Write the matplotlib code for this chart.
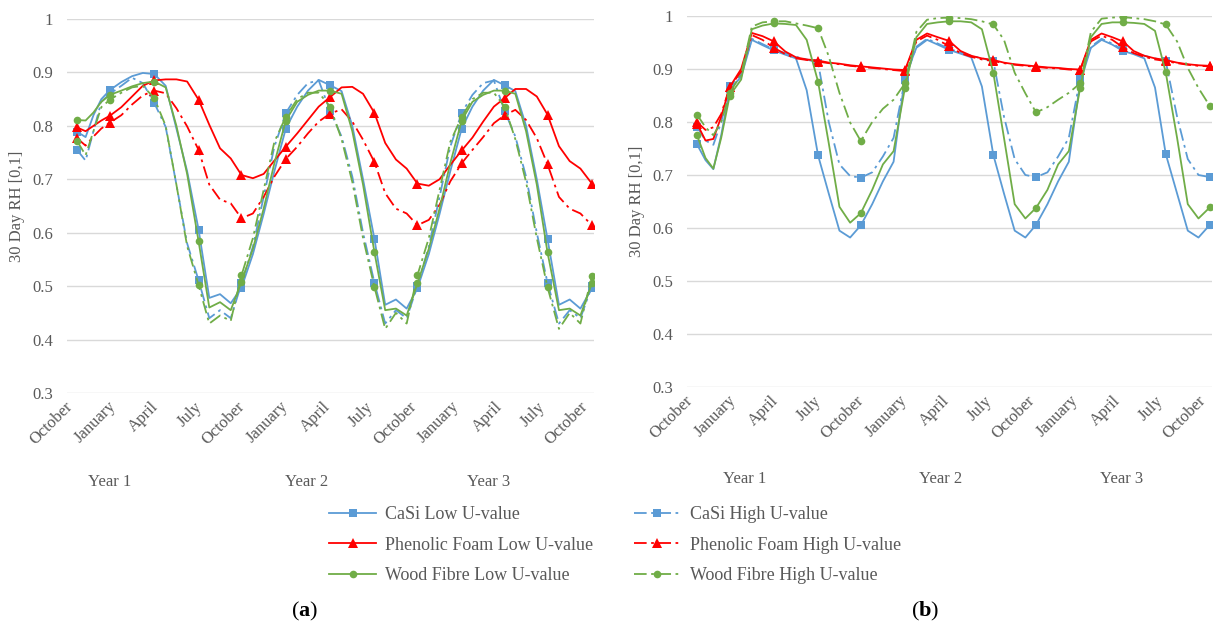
import matplotlib
matplotlib.use("Agg")
import matplotlib.pyplot as plt
import matplotlib.transforms as mtransforms

plt.rcParams['font.family'] = ['Liberation Serif', 'DejaVu Serif']
plt.rcParams['mathtext.fontset'] = 'custom'
plt.rcParams['mathtext.rm'] = 'Liberation Serif'
plt.rcParams['mathtext.bf'] = 'Liberation Serif:bold'

# x positions of the samples, in months from the first October
months = [0, 0.6, 1.15, 1.7, 2.3,
          3.1, 3.85, 4.6, 5.4,
          6.2, 6.95, 7.7, 8.5,
          9.25, 10.0, 10.75, 11.5,
          12.3, 13.05, 13.8, 14.6,
          15.4, 16.15, 16.9, 17.7,
          18.5, 19.25, 20.0, 20.8,
          21.55, 22.3, 23.05, 23.8,
          24.6, 25.35, 26.1, 26.9,
          27.65, 28.4, 29.15, 29.9,
          30.65, 31.4, 32.15, 32.9,
          33.7, 34.45, 35.2, 36.0]

tick_months = [0, 3, 6, 9, 12, 15, 18, 21, 24, 27, 30, 33, 36]
tick_labels = ["October", "January", "April", "July"] * 3 + ["October"]
year_labels = ["Year 1", "Year 2", "Year 3"]

series_names = ["CaSi Low U-value", "CaSi High U-value",
                "Phenolic Foam Low U-value", "Phenolic Foam High U-value",
                "Wood Fibre Low U-value", "Wood Fibre High U-value"]

# ---------------- panel (a) ----------------
a_casi_low = [0.789, 0.779, 0.82, 0.85, 0.867,
              0.882, 0.893, 0.899, 0.897,
              0.875, 0.795, 0.715, 0.606,
              0.478, 0.485, 0.468, 0.497,
              0.56, 0.635, 0.715, 0.795,
              0.836, 0.866, 0.886, 0.876,
              0.865, 0.80, 0.70, 0.588,
              0.465, 0.475, 0.458, 0.496,
              0.56, 0.635, 0.715, 0.795,
              0.836, 0.866, 0.886, 0.876,
              0.865, 0.80, 0.70, 0.588,
              0.465, 0.475, 0.458, 0.496]
a_casi_high = [0.755, 0.735, 0.79, 0.845, 0.86,
               0.875, 0.89, 0.88, 0.843,
               0.798, 0.69, 0.58, 0.511,
               0.44, 0.455, 0.44, 0.505,
               0.574, 0.667, 0.761, 0.824,
               0.858, 0.88, 0.885, 0.828,
               0.78, 0.705, 0.60, 0.506,
               0.43, 0.455, 0.44, 0.50,
               0.574, 0.667, 0.761, 0.824,
               0.858, 0.88, 0.885, 0.828,
               0.78, 0.705, 0.60, 0.506,
               0.43, 0.455, 0.44, 0.50]
a_pf_low = [0.797, 0.79, 0.80, 0.81, 0.819,
            0.835, 0.855, 0.875, 0.885,
            0.887, 0.887, 0.883, 0.849,
            0.802, 0.758, 0.739, 0.708,
            0.702, 0.71, 0.735, 0.761,
            0.786, 0.811, 0.836, 0.854,
            0.872, 0.873, 0.86, 0.824,
            0.768, 0.737, 0.72, 0.692,
            0.688, 0.70, 0.727, 0.754,
            0.778, 0.808, 0.836, 0.852,
            0.869, 0.869, 0.855, 0.821,
            0.762, 0.734, 0.72, 0.692]
a_pf_high = [0.777, 0.763, 0.78, 0.795, 0.806,
             0.82, 0.84, 0.857, 0.866,
             0.861, 0.833, 0.799, 0.755,
             0.69, 0.662, 0.655, 0.627,
             0.636, 0.667, 0.705, 0.738,
             0.761, 0.786, 0.808, 0.823,
             0.831, 0.808, 0.774, 0.732,
             0.674, 0.645, 0.636, 0.614,
             0.624, 0.652, 0.696, 0.73,
             0.755, 0.779, 0.805, 0.82,
             0.83, 0.811, 0.777, 0.728,
             0.667, 0.645, 0.636, 0.614]
a_wf_low = [0.811, 0.81, 0.825, 0.845, 0.858,
            0.866, 0.874, 0.88, 0.883,
            0.872, 0.80, 0.71, 0.584,
            0.46, 0.47, 0.455, 0.508,
            0.57, 0.645, 0.73, 0.81,
            0.845, 0.858, 0.866, 0.866,
            0.86, 0.79, 0.69, 0.563,
            0.455, 0.458, 0.445, 0.505,
            0.57, 0.645, 0.73, 0.81,
            0.845, 0.858, 0.866, 0.866,
            0.86, 0.79, 0.69, 0.563,
            0.455, 0.458, 0.445, 0.505]
a_wf_high = [0.772, 0.745, 0.79, 0.835, 0.849,
             0.862, 0.872, 0.875, 0.852,
             0.80, 0.69, 0.575, 0.502,
             0.43, 0.445, 0.435, 0.52,
             0.59, 0.68, 0.77, 0.817,
             0.85, 0.862, 0.862, 0.836,
             0.775, 0.695, 0.59, 0.498,
             0.42, 0.45, 0.43, 0.52,
             0.59, 0.68, 0.77, 0.817,
             0.85, 0.862, 0.862, 0.836,
             0.775, 0.695, 0.59, 0.498,
             0.42, 0.45, 0.43, 0.519]

# ---------------- panel (b) ----------------
b_casi_low = [0.758, 0.728, 0.711, 0.775, 0.862,
              0.885, 0.955, 0.945, 0.935,
              0.927, 0.92, 0.86, 0.737,
              0.665, 0.595, 0.582, 0.605,
              0.645, 0.688, 0.725, 0.885,
              0.94, 0.955, 0.946, 0.936,
              0.929, 0.922, 0.867, 0.738,
              0.665, 0.595, 0.582, 0.606,
              0.645, 0.688, 0.725, 0.875,
              0.94, 0.955, 0.946, 0.934,
              0.928, 0.92, 0.865, 0.74,
              0.665, 0.595, 0.582, 0.606]
b_casi_high = [0.791, 0.765, 0.757, 0.80, 0.867,
               0.89, 0.957, 0.947, 0.937,
               0.93, 0.923, 0.918, 0.912,
               0.80, 0.72, 0.698, 0.695,
               0.705, 0.735, 0.77, 0.88,
               0.942, 0.957, 0.948, 0.938,
               0.931, 0.925, 0.92, 0.915,
               0.81, 0.73, 0.70, 0.696,
               0.705, 0.735, 0.77, 0.882,
               0.942, 0.957, 0.948, 0.936,
               0.93, 0.925, 0.92, 0.915,
               0.81, 0.73, 0.70, 0.696]
b_pf_low = [0.797, 0.765, 0.768, 0.81, 0.866,
            0.90, 0.968, 0.962, 0.952,
            0.933, 0.922, 0.918, 0.916,
            0.912, 0.91, 0.907, 0.905,
            0.903, 0.901, 0.899, 0.898,
            0.955, 0.967, 0.96, 0.953,
            0.934, 0.925, 0.92, 0.917,
            0.912, 0.909, 0.907, 0.905,
            0.903, 0.902, 0.90, 0.899,
            0.955, 0.967, 0.96, 0.952,
            0.934, 0.925, 0.92, 0.917,
            0.912, 0.909, 0.907, 0.906]
b_pf_high = [0.80, 0.785, 0.79, 0.815, 0.866,
             0.895, 0.964, 0.955, 0.94,
             0.928, 0.92, 0.917, 0.914,
             0.911, 0.909, 0.906, 0.904,
             0.902, 0.90, 0.898, 0.896,
             0.952, 0.963, 0.955, 0.943,
             0.93, 0.923, 0.918, 0.915,
             0.911, 0.908, 0.906, 0.904,
             0.902, 0.901, 0.899, 0.898,
             0.952, 0.963, 0.955, 0.941,
             0.93, 0.923, 0.918, 0.915,
             0.911, 0.908, 0.906, 0.905]
b_wf_low = [0.775, 0.732, 0.712, 0.77, 0.85,
            0.88, 0.975, 0.982, 0.986,
            0.985, 0.983, 0.955, 0.876,
            0.76, 0.64, 0.61, 0.628,
            0.672, 0.72, 0.745, 0.865,
            0.96, 0.985, 0.988, 0.99,
            0.99, 0.988, 0.975, 0.893,
            0.77, 0.645, 0.618, 0.638,
            0.672, 0.72, 0.745, 0.865,
            0.96, 0.985, 0.988, 0.988,
            0.987, 0.985, 0.972, 0.894,
            0.77, 0.645, 0.618, 0.639]
b_wf_high = [0.814, 0.79, 0.775, 0.80, 0.855,
             0.89, 0.98, 0.988, 0.99,
             0.99, 0.986, 0.982, 0.977,
             0.924, 0.855, 0.799, 0.764,
             0.80, 0.825, 0.842, 0.873,
             0.97, 0.993, 0.996, 0.997,
             0.996, 0.994, 0.99, 0.984,
             0.955, 0.893, 0.854, 0.818,
             0.828, 0.842, 0.855, 0.873,
             0.97, 0.995, 0.997, 0.998,
             0.996, 0.994, 0.99, 0.984,
             0.952, 0.902, 0.864, 0.83]

panel_a = [a_casi_low, a_casi_high, a_pf_low, a_pf_high, a_wf_low, a_wf_high]
panel_b = [b_casi_low, b_casi_high, b_pf_low, b_pf_high, b_wf_low, b_wf_high]

BLUE, RED, GREEN = "#5B9BD5", "#FF0000", "#70AD47"
DASHDOT = (0, (7, 2.5, 1.5, 2.5))
styles = [
    dict(color=BLUE, marker="s", ls="-"),
    dict(color=BLUE, marker="s", ls=DASHDOT),
    dict(color=RED, marker="^", ls="-"),
    dict(color=RED, marker="^", ls=DASHDOT),
    dict(color=GREEN, marker="o", ls="-"),
    dict(color=GREEN, marker="o", ls=DASHDOT),
]
TXT = "#595959"

W, H = 1218, 629
fig = plt.figure(figsize=(W / 100, H / 100), dpi=100)
axA = fig.add_axes([67 / W, 1 - 393 / H, (594 - 67) / W, (393 - 19) / H])
axB = fig.add_axes([687 / W, 1 - 387 / H, (1212 - 687) / W, (387 - 16) / H])

label_shift = mtransforms.ScaledTranslation(-0.12, -0.055, fig.dpi_scale_trans)

draw_order = [0, 2, 4, 1, 3, 5]
handles = {}
for ax, data in ((axA, panel_a), (axB, panel_b)):
    for i in draw_order:
        st = styles[i]
        ms = 6.5 if st["marker"] == "^" else 5.5
        ln, = ax.plot(months, data[i], color=st["color"], ls=st["ls"],
                      lw=1.3, marker=st["marker"], markersize=ms,
                      markevery=4, markeredgewidth=0, label=series_names[i],
                      zorder=3 + i * 0.1)
        handles[i] = ln
    ax.set_xlim(-0.7, 36.15)
    ax.set_ylim(0.3, 1.0)
    ax.set_yticks([0.3, 0.4, 0.5, 0.6, 0.7, 0.8, 0.9, 1.0])
    ax.set_yticklabels(["0.3", "0.4", "0.5", "0.6", "0.7", "0.8", "0.9", "1"])
    ax.set_xticks(tick_months)
    ax.set_xticklabels([])
    xtrans = ax.get_xaxis_transform() + label_shift
    for tm, lab in zip(tick_months, tick_labels):
        ax.text(tm, 0, lab, transform=xtrans, rotation=45, ha="right", va="top",
                rotation_mode="anchor", fontsize=12, color=TXT, clip_on=False)
    ax.grid(axis="y", color="#D9D9D9", lw=1)
    ax.set_axisbelow(True)
    for s in ax.spines.values():
        s.set_visible(False)
    ax.tick_params(axis="both", length=0, labelsize=12, labelcolor=TXT)
    ax.tick_params(axis="y", pad=10)
    ax.set_ylabel("30 Day RH [0,1]", fontsize=12, color=TXT, labelpad=5)

# multi-level category labels (years)
year_pos_a = (110, 307, 489)
year_pos_b = (745, 941, 1122)
for lab, xa, xb in zip(year_labels, year_pos_a, year_pos_b):
    fig.text(xa / W, 1 - 482 / H, lab, ha="center", va="center", fontsize=12, color=TXT)
    fig.text(xb / W, 1 - 479 / H, lab, ha="center", va="center", fontsize=12, color=TXT)

leg_handles = [handles[0], handles[2], handles[4], handles[1], handles[3], handles[5]]
leg = fig.legend(leg_handles, [h.get_label() for h in leg_handles],
                 loc="center", bbox_to_anchor=(615 / W, 1 - 545 / H), ncol=2,
                 frameon=False, fontsize=13, handlelength=2.6, handletextpad=0.5,
                 columnspacing=2.25, labelspacing=0.75)
for t in leg.get_texts():
    t.set_color(TXT)

fig.text(305 / W, 1 - 611 / H, r"($\mathbf{a}$)", ha="center", va="center", fontsize=16, color="black")
fig.text(925 / W, 1 - 611 / H, r"($\mathbf{b}$)", ha="center", va="center", fontsize=16, color="black")

fig.savefig("out.png", dpi=100)
